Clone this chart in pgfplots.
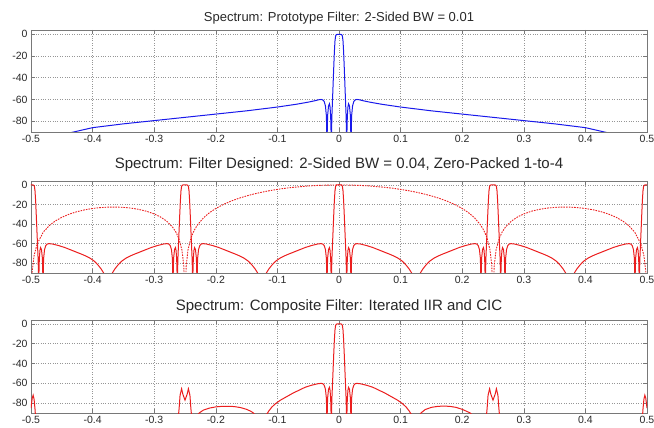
\documentclass[border=0pt]{standalone}
\usepackage{pgfplots}
\pgfplotsset{compat=1.18}
\usepackage{fontspec}
\setmainfont{Liberation Sans}
\definecolor{axgray}{RGB}{120,120,120}
\definecolor{txt}{RGB}{40,40,40}
\definecolor{gridc}{RGB}{150,150,150}
\definecolor{mblue}{RGB}{25,25,235}
\definecolor{mred}{RGB}{235,30,30}
\pgfplotsset{
  mystyle/.style={
    scale only axis, width=616pt, anchor=north west,
    xmin=-0.5, xmax=0.5, ymin=-90, ymax=4,
    xtick={-0.5,-0.4,-0.3,-0.2,-0.1,0,0.1,0.2,0.3,0.4,0.5},
    xticklabels={-0.5,-0.4,-0.3,-0.2,-0.1,0,0.1,0.2,0.3,0.4,0.5},
    ytick={-80,-60,-40,-20,0},
    yticklabels={-80,-60,-40,-20,0},
    grid=major, major grid style={gridc, dotted, line width=0.6pt},
    axis line style={axgray, line width=0.9pt},
    tick style={axgray, line width=0.6pt}, tick align=inside, major tick length=4pt,
    ticklabel style={font=\fontsize{10.5}{12}\selectfont, text=txt},
    title style={text=txt, anchor=center},
  }
}
\begin{document}
\begin{tikzpicture}
\path[use as bounding box] (0,0) rectangle (654pt,-428pt);
% ---------- panel 1 ----------
\begin{axis}[mystyle, at={(31pt,-30pt)}, height=102pt,
  title={Spectrum: Prototype Filter: 2-Sided BW = 0.01},
  title style={font=\fontsize{13}{15}\selectfont, yshift=6pt}]
\addplot[mblue, line width=1pt] coordinates {
(-0.45,-92.5) (-0.4,-86) (-0.35,-82.5) (-0.3,-79.5) (-0.25,-76.5) (-0.2,-73.5) (-0.15,-70.5)
(-0.1,-67) (-0.07,-64.5) (-0.05,-62.5) (-0.04,-61.3) (-0.033,-60.3) (-0.029,-60) (-0.026,-60.5)
(-0.024,-62) (-0.022,-66) (-0.0205,-75) (-0.0195,-100) (-0.0185,-75) (-0.017,-66) (-0.0155,-64)
(-0.0145,-67) (-0.0135,-76) (-0.0125,-100) (-0.0115,-75) (-0.0105,-60) (-0.0095,-45) (-0.0085,-30)
(-0.0075,-16) (-0.0065,-6) (-0.0055,-1.5) (-0.0045,-0.3) (-0.003,0)
(0.003,0) (0.0045,-0.3) (0.0055,-1.5) (0.0065,-6) (0.0075,-16) (0.0085,-30) (0.0095,-45)
(0.0105,-60) (0.0115,-75) (0.0125,-100) (0.0135,-76) (0.0145,-67) (0.0155,-64) (0.017,-66)
(0.0185,-75) (0.0195,-100) (0.0205,-75) (0.022,-66) (0.024,-62) (0.026,-60.5) (0.029,-60)
(0.033,-60.3) (0.04,-61.3) (0.05,-62.5) (0.07,-64.5) (0.1,-67) (0.15,-70.5) (0.2,-73.5)
(0.25,-76.5) (0.3,-79.5) (0.35,-82.5) (0.4,-86) (0.45,-92.5)
};
\end{axis}
% ---------- panel 2 ----------
\begin{axis}[mystyle, at={(31pt,-181pt)}, height=92pt,
  title={Spectrum: Filter Designed: 2-Sided BW = 0.04, Zero-Packed 1-to-4},
  title style={font=\fontsize{15}{17}\selectfont, yshift=10pt}]
\addplot[mred, line width=1pt] coordinates {
(-0.5,0) (-0.497,0) (-0.4955,-0.3) (-0.4945,-1.5) (-0.4935,-6) (-0.4925,-16) (-0.4915,-30)
(-0.4905,-45) (-0.4895,-60) (-0.4885,-75) (-0.4875,-100) (-0.4865,-76) (-0.4855,-67) (-0.4845,-64)
(-0.483,-66) (-0.4815,-75) (-0.4805,-100) (-0.4795,-75) (-0.478,-66) (-0.476,-62) (-0.474,-60.5)
(-0.471,-60) (-0.465,-60.4) (-0.455,-62) (-0.445,-64) (-0.435,-66.5) (-0.425,-69) (-0.415,-71.5)
(-0.405,-74.5) (-0.397,-78) (-0.391,-82) (-0.386,-86) (-0.382,-90) (-0.379,-94)
(-0.371,-94) (-0.368,-90) (-0.364,-86) (-0.359,-82) (-0.353,-78) (-0.345,-74.5) (-0.335,-71.5)
(-0.325,-69) (-0.315,-66.5) (-0.305,-64) (-0.295,-62) (-0.285,-60.4) (-0.279,-60) (-0.276,-60.5)
(-0.274,-62) (-0.272,-66) (-0.2705,-75) (-0.2695,-100) (-0.2685,-75) (-0.267,-66) (-0.2655,-64)
(-0.2645,-67) (-0.2635,-76) (-0.2625,-100) (-0.2615,-75) (-0.2605,-60) (-0.2595,-45) (-0.2585,-30)
(-0.2575,-16) (-0.2565,-6) (-0.2555,-1.5) (-0.2545,-0.3) (-0.253,0) (-0.247,0) (-0.2455,-0.3)
(-0.2445,-1.5) (-0.2435,-6) (-0.2425,-16) (-0.2415,-30) (-0.2405,-45) (-0.2395,-60) (-0.2385,-75)
(-0.2375,-100) (-0.2365,-76) (-0.2355,-67) (-0.2345,-64) (-0.233,-66) (-0.2315,-75) (-0.2305,-100)
(-0.2295,-75) (-0.228,-66) (-0.226,-62) (-0.224,-60.5) (-0.221,-60) (-0.215,-60.4) (-0.205,-62)
(-0.195,-64) (-0.185,-66.5) (-0.175,-69) (-0.165,-71.5) (-0.155,-74.5) (-0.147,-78) (-0.141,-82)
(-0.136,-86) (-0.132,-90) (-0.129,-94)
(-0.121,-94) (-0.118,-90) (-0.114,-86) (-0.109,-82) (-0.103,-78) (-0.095,-74.5) (-0.085,-71.5)
(-0.075,-69) (-0.065,-66.5) (-0.055,-64) (-0.045,-62) (-0.035,-60.4) (-0.029,-60) (-0.026,-60.5)
(-0.024,-62) (-0.022,-66) (-0.0205,-75) (-0.0195,-100) (-0.0185,-75) (-0.017,-66) (-0.0155,-64)
(-0.0145,-67) (-0.0135,-76) (-0.0125,-100) (-0.0115,-75) (-0.0105,-60) (-0.0095,-45) (-0.0085,-30)
(-0.0075,-16) (-0.0065,-6) (-0.0055,-1.5) (-0.0045,-0.3) (-0.003,0) (0.003,0) (0.0045,-0.3)
(0.0055,-1.5) (0.0065,-6) (0.0075,-16) (0.0085,-30) (0.0095,-45) (0.0105,-60) (0.0115,-75)
(0.0125,-100) (0.0135,-76) (0.0145,-67) (0.0155,-64) (0.017,-66) (0.0185,-75) (0.0195,-100)
(0.0205,-75) (0.022,-66) (0.024,-62) (0.026,-60.5) (0.029,-60) (0.035,-60.4) (0.045,-62)
(0.055,-64) (0.065,-66.5) (0.075,-69) (0.085,-71.5) (0.095,-74.5) (0.103,-78) (0.109,-82)
(0.114,-86) (0.118,-90) (0.121,-94)
(0.129,-94) (0.132,-90) (0.136,-86) (0.141,-82) (0.147,-78) (0.155,-74.5) (0.165,-71.5)
(0.175,-69) (0.185,-66.5) (0.195,-64) (0.205,-62) (0.215,-60.4) (0.221,-60) (0.224,-60.5)
(0.226,-62) (0.228,-66) (0.2295,-75) (0.2305,-100) (0.2315,-75) (0.233,-66) (0.2345,-64)
(0.2355,-67) (0.2365,-76) (0.2375,-100) (0.2385,-75) (0.2395,-60) (0.2405,-45) (0.2415,-30)
(0.2425,-16) (0.2435,-6) (0.2445,-1.5) (0.2455,-0.3) (0.247,0) (0.253,0) (0.2545,-0.3)
(0.2555,-1.5) (0.2565,-6) (0.2575,-16) (0.2585,-30) (0.2595,-45) (0.2605,-60) (0.2615,-75)
(0.2625,-100) (0.2635,-76) (0.2645,-67) (0.2655,-64) (0.267,-66) (0.2685,-75) (0.2695,-100)
(0.2705,-75) (0.272,-66) (0.274,-62) (0.276,-60.5) (0.279,-60) (0.285,-60.4) (0.295,-62)
(0.305,-64) (0.315,-66.5) (0.325,-69) (0.335,-71.5) (0.345,-74.5) (0.353,-78) (0.359,-82)
(0.364,-86) (0.368,-90) (0.371,-94)
(0.379,-94) (0.382,-90) (0.386,-86) (0.391,-82) (0.397,-78) (0.405,-74.5) (0.415,-71.5)
(0.425,-69) (0.435,-66.5) (0.445,-64) (0.455,-62) (0.465,-60.4) (0.471,-60) (0.474,-60.5)
(0.476,-62) (0.478,-66) (0.4795,-75) (0.4805,-100) (0.4815,-75) (0.483,-66) (0.4845,-64)
(0.4855,-67) (0.4865,-76) (0.4875,-100) (0.4885,-75) (0.4895,-60) (0.4905,-45) (0.4915,-30)
(0.4925,-16) (0.4935,-6) (0.4945,-1.5) (0.4955,-0.3) (0.497,0) (0.5,0)
};
\addplot[mred, line width=0.9pt, dash pattern=on 1.6pt off 1.1pt] coordinates {
(-0.5,-120) (-0.498,-88.1) (-0.495,-72.2) (-0.49,-60.2) (-0.48,-48.2) (-0.47,-41.36) (-0.46,-36.63)
(-0.45,-33.1) (-0.4375,-29.77) (-0.425,-27.28) (-0.4125,-25.42) (-0.4,-24.08) (-0.3875,-23.19)
(-0.375,-22.71) (-0.3625,-22.62) (-0.35,-22.95) (-0.3375,-23.72) (-0.325,-25.0) (-0.3125,-26.9)
(-0.3,-29.63) (-0.29,-32.68) (-0.28,-36.92) (-0.27,-43.26) (-0.265,-47.93) (-0.26,-54.7)
(-0.255,-66.4) (-0.252,-82.2) (-0.25,-120) (-0.248,-81.9) (-0.245,-65.9) (-0.24,-53.6)
(-0.235,-46.29) (-0.23,-41.07) (-0.22,-33.62) (-0.21,-28.27) (-0.2,-24.08) (-0.1875,-19.89)
(-0.175,-16.49) (-0.1625,-13.64) (-0.15,-11.24) (-0.1375,-9.17) (-0.125,-7.4) (-0.1125,-5.87)
(-0.1,-4.56) (-0.0875,-3.43) (-0.075,-2.49) (-0.05,-1.09) (-0.035,-0.53) (-0.02,-0.17) (0,0)
(0.02,-0.17) (0.035,-0.53) (0.05,-1.09) (0.075,-2.49) (0.0875,-3.43) (0.1,-4.56) (0.1125,-5.87)
(0.125,-7.4) (0.1375,-9.17) (0.15,-11.24) (0.1625,-13.64) (0.175,-16.49) (0.1875,-19.89)
(0.2,-24.08) (0.21,-28.27) (0.22,-33.62) (0.23,-41.07) (0.235,-46.29) (0.24,-53.6) (0.245,-65.9)
(0.248,-81.9) (0.25,-120) (0.252,-82.2) (0.255,-66.4) (0.26,-54.7) (0.265,-47.93) (0.27,-43.26)
(0.28,-36.92) (0.29,-32.68) (0.3,-29.63) (0.3125,-26.9) (0.325,-25.0) (0.3375,-23.72)
(0.35,-22.95) (0.3625,-22.62) (0.375,-22.71) (0.3875,-23.19) (0.4,-24.08) (0.4125,-25.42)
(0.425,-27.28) (0.4375,-29.77) (0.45,-33.1) (0.46,-36.63) (0.47,-41.36) (0.48,-48.2)
(0.49,-60.2) (0.495,-72.2) (0.498,-88.1) (0.5,-120)
};
\end{axis}
% ---------- panel 3 ----------
\begin{axis}[mystyle, at={(31pt,-320pt)}, height=93pt,
  title={Spectrum: Composite Filter: Iterated IIR and CIC},
  title style={font=\fontsize{15}{17}\selectfont, yshift=7pt}]
\addplot[mred, line width=1pt] coordinates {
(-0.5,-85) (-0.498,-75) (-0.4965,-72) (-0.495,-76) (-0.4935,-86) (-0.4925,-95)
(-0.261,-95) (-0.2595,-85) (-0.258,-72) (-0.2555,-65.5) (-0.2535,-71) (-0.25,-77) (-0.2465,-71)
(-0.2445,-65.5) (-0.242,-72) (-0.2405,-85) (-0.239,-95)
(-0.232,-94) (-0.227,-90) (-0.22,-87) (-0.21,-85) (-0.2,-83.8) (-0.19,-83.3) (-0.18,-83.2)
(-0.17,-83.5) (-0.16,-84.5) (-0.15,-86.3) (-0.143,-88.3) (-0.139,-90) (-0.135,-93)
(-0.118,-92) (-0.114,-88) (-0.109,-84) (-0.103,-80.5) (-0.095,-77) (-0.085,-73.5) (-0.075,-70)
(-0.065,-67) (-0.055,-64) (-0.045,-62) (-0.035,-60.5) (-0.029,-60) (-0.026,-60.5)
(-0.024,-62) (-0.022,-66) (-0.0205,-75) (-0.0195,-100) (-0.0185,-75) (-0.017,-66) (-0.0155,-64)
(-0.0145,-67) (-0.0135,-76) (-0.0125,-100) (-0.0115,-75) (-0.0105,-60) (-0.0095,-45) (-0.0085,-30)
(-0.0075,-16) (-0.0065,-6) (-0.0055,-1.5) (-0.0045,-0.3) (-0.003,0) (0.003,0) (0.0045,-0.3)
(0.0055,-1.5) (0.0065,-6) (0.0075,-16) (0.0085,-30) (0.0095,-45) (0.0105,-60) (0.0115,-75)
(0.0125,-100) (0.0135,-76) (0.0145,-67) (0.0155,-64) (0.017,-66) (0.0185,-75) (0.0195,-100)
(0.0205,-75) (0.022,-66) (0.024,-62) (0.026,-60.5) (0.029,-60) (0.035,-60.5) (0.045,-62)
(0.055,-64) (0.065,-67) (0.075,-70) (0.085,-73.5) (0.095,-77) (0.103,-80.5) (0.109,-84)
(0.114,-88) (0.118,-92)
(0.128,-95) (0.133,-90) (0.14,-86.5) (0.15,-84.3) (0.16,-83.3) (0.17,-83) (0.18,-83.3)
(0.19,-84.3) (0.2,-86.3) (0.208,-88.5) (0.213,-90) (0.218,-93)
(0.239,-95) (0.2405,-85) (0.242,-72) (0.2445,-65.5) (0.2465,-71) (0.25,-77) (0.2535,-71)
(0.2555,-65.5) (0.258,-72) (0.2595,-85) (0.261,-95)
(0.4925,-95) (0.4935,-86) (0.495,-76) (0.4965,-72) (0.498,-75) (0.5,-85)
};
\end{axis}
\end{tikzpicture}
\end{document}
